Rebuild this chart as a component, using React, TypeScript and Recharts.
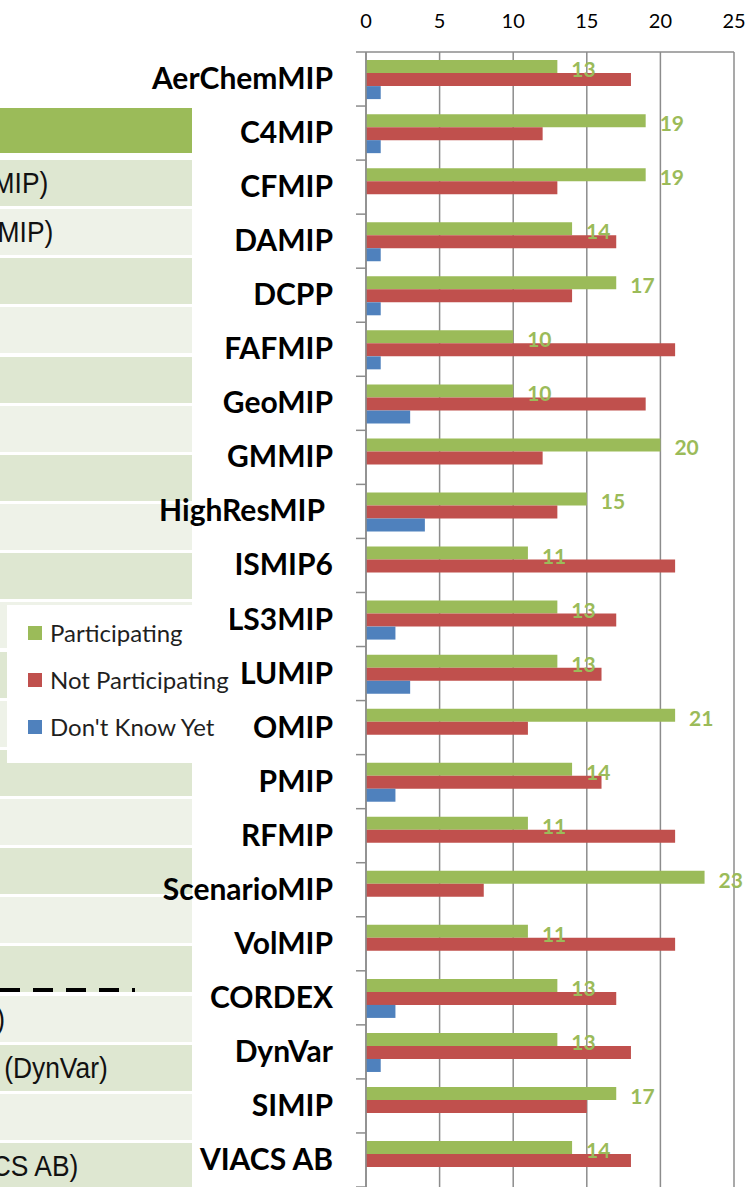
import { BarChart, Bar, XAxis, YAxis, CartesianGrid, Legend, LabelList } from 'recharts';

const categories = [
  'AerChemMIP', 'C4MIP', 'CFMIP', 'DAMIP', 'DCPP', 'FAFMIP', 'GeoMIP', 'GMMIP',
  'HighResMIP', 'ISMIP6', 'LS3MIP', 'LUMIP', 'OMIP', 'PMIP', 'RFMIP', 'ScenarioMIP',
  'VolMIP', 'CORDEX', 'DynVar', 'SIMIP', 'VIACS AB',
];
const participating = [13, 19, 19, 14, 17, 10, 10, 20, 15, 11, 13, 13, 21, 14, 11, 23, 11, 13, 13, 17, 14];
const notParticipating = [18, 12, 13, 17, 14, 21, 19, 12, 13, 21, 17, 16, 11, 16, 21, 8, 21, 17, 18, 15, 18];
const dontKnowYet = [1, 1, 0, 1, 1, 1, 3, 0, 4, 0, 2, 3, 0, 2, 0, 0, 0, 2, 1, 0, 0];
const xTicks = [0, 5, 10, 15, 20, 25];
const seriesNames = ['Participating', 'Not Participating', "Don't Know Yet"];

// visible bits of the slide table behind the chart (row index -> text)
const tableRowText = ['MIP)', 'MIP)', '', '', '', '', '', '', '', '', '', '', '', '', '', '', '', ')', '(DynVar)', '', 'CS AB)'];
const tableTextEnd = [48, 53, 0, 0, 0, 0, 0, 0, 0, 0, 0, 0, 0, 0, 0, 0, 0, 5, 108, 0, 78];

const GREEN = '#9BBB59';
const RED = '#C0504D';
const BLUE = '#4F81BD';
const GRID = '#8c8c8c';

const W = 755;
const H = 1187;
const AXIS_H = 52;
const LEFT_W = 366;
const BAND = (H - AXIS_H) / categories.length;

const data = categories.map((name, i) => ({
  name,
  participating: participating[i],
  notParticipating: notParticipating[i],
  dontKnow: dontKnowYet[i],
}));

const CategoryTick = (props: any) => {
  const { x, y, payload, index } = props;
  const label = String(payload.value);
  return (
    <g>
      <line x1={x - 10} x2={x} y1={y - BAND / 2} y2={y - BAND / 2} stroke={GRID} strokeWidth={1.5} />
      {index === categories.length - 1 && (
        <line x1={x - 10} x2={x} y1={y + BAND / 2} y2={y + BAND / 2} stroke={GRID} strokeWidth={1.5} />
      )}
      <text
        x={x - (label === 'HighResMIP' ? 41 : 33)}
        y={y + 10}
        textAnchor="end"
        fontFamily="Lato"
        fontWeight={700}
        fontSize={30}
        fill="#000"
      >
        {label}
      </text>
    </g>
  );
};

const GreenLabel = (props: any) => {
  const { x, y, width, height, value } = props;
  return (
    <text
      x={x + width + 14}
      y={y + height + 4}
      fontFamily="Lato"
      fontWeight={700}
      fontSize={21}
      fill={GREEN}
    >
      {value}
    </text>
  );
};

const renderLegend = (props: any) => {
  const items = [...(props.payload || [])].sort(
    (a: any, b: any) => seriesNames.indexOf(a.value) - seriesNames.indexOf(b.value)
  );
  return (
    <div style={{ paddingTop: 4, paddingLeft: 21 }}>
      {items.map((entry: any) => (
        <div key={entry.value} style={{ display: 'flex', alignItems: 'center', height: 47 }}>
          <span style={{ width: 14, height: 14, background: entry.color, marginRight: 8 }} />
          <span style={{ fontFamily: 'Lato', fontSize: 24, color: '#1f1f1f', whiteSpace: 'nowrap' }}>{entry.value}</span>
        </div>
      ))}
    </div>
  );
};

export default function App() {
  const rowTop = (i: number) => 160 + i * 49.15;
  return (
    <div style={{ position: 'absolute', left: 0, top: 0, width: W, height: H, overflow: 'hidden', background: '#fff' }}>
      {/* slide table peeking out on the left */}
      <div style={{ position: 'absolute', left: 0, top: 108, width: 192, height: 45, background: GREEN }} />
      {tableRowText.map((t, i) => (
        <div
          key={i}
          style={{
            position: 'absolute',
            left: 0,
            top: rowTop(i),
            width: 192,
            height: 46,
            background: i % 2 === 0 ? '#dee7d1' : '#eef2e8',
          }}
        />
      ))}
      {tableRowText.map((t, i) =>
        t ? (
          <div
            key={'t' + i}
            style={{
              position: 'absolute',
              right: W - tableTextEnd[i],
              top: rowTop(i),
              height: 46,
              lineHeight: '46px',
              whiteSpace: 'nowrap',
              fontFamily: '"Liberation Sans", Arial, sans-serif',
              fontSize: 30,
              transform: 'scaleX(0.88)',
              transformOrigin: 'right center',
              color: '#111',
            }}
          >
            {t}
          </div>
        ) : null
      )}
      <svg style={{ position: 'absolute', left: 0, top: 0 }} width={200} height={H}>
        <line x1={0} x2={135} y1={990} y2={990} stroke="#000" strokeWidth={4} strokeDasharray="20 13" />
      </svg>

      <div style={{ position: 'absolute', left: 0, top: 0 }}>
        <BarChart
          width={W}
          height={H}
          layout="vertical"
          data={data}
          margin={{ top: 0, right: 21, bottom: 0, left: 0 }}
          barCategoryGap="15%"
          barGap={0}
        >
          <CartesianGrid horizontal={false} stroke={GRID} strokeWidth={1.5} />
          <XAxis
            type="number"
            orientation="top"
            domain={[0, 25]}
            ticks={xTicks}
            height={AXIS_H}
            axisLine={{ stroke: GRID, strokeWidth: 1.5 }}
            tickLine={false}
            tickSize={0}
            tickMargin={24}
            tick={{ fontSize: 20, fill: '#000', fontFamily: 'Lato' }}
          />
          <YAxis
            type="category"
            dataKey="name"
            width={LEFT_W}
            interval={0}
            axisLine={{ stroke: GRID, strokeWidth: 1.5 }}
            tickLine={false}
            tickSize={0}
            tickMargin={0}
            tick={<CategoryTick />}
          />
          <Legend
            layout="vertical"
            align="center"
            verticalAlign="middle"
            content={renderLegend}
            wrapperStyle={{ left: 7, top: 605, width: 223, height: 158, background: '#fff' }}
          />
          <Bar dataKey="participating" name={seriesNames[0]} fill={GREEN} isAnimationActive={false}>
            <LabelList dataKey="participating" content={<GreenLabel />} />
          </Bar>
          <Bar dataKey="notParticipating" name={seriesNames[1]} fill={RED} isAnimationActive={false} />
          <Bar dataKey="dontKnow" name={seriesNames[2]} fill={BLUE} isAnimationActive={false} />
        </BarChart>
      </div>
    </div>
  );
}
